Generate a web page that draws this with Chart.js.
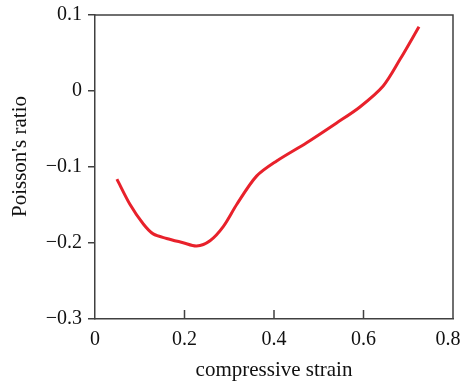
<!DOCTYPE html>
<html>
<head>
<meta charset="utf-8">
<script src="https://cdn.jsdelivr.net/npm/chart.js@4/dist/chart.umd.min.js"></script>
<style>
  body { margin: 0; background: #fff; }
  canvas { display: block; }
</style>
</head>
<body>
<canvas id="poisson-chart" width="462" height="383"></canvas>
<script>
// values
const strain = [0.049, 0.078, 0.108, 0.13, 0.16, 0.197, 0.227, 0.257, 0.287, 0.317, 0.361, 0.406, 0.473, 0.54, 0.592, 0.644, 0.682, 0.724];
const poissonRatio = [-0.116, -0.149, -0.175, -0.188, -0.194, -0.1996, -0.204, -0.197, -0.178, -0.149, -0.112, -0.092, -0.068, -0.042, -0.021, 0.0066, 0.042, 0.0846];
const xTicks = [0, 0.2, 0.4, 0.6, 0.8];
const yTicks = [-0.3, -0.2, -0.1, 0, 0.1];

const axisColor = "#404040";
const serif = "'Liberation Serif', 'DejaVu Serif', serif";

// frame on top/right plus inward ticks on the bottom axis
const framePlugin = {
  id: "frame",
  afterDraw(chart) {
    const { ctx, chartArea } = chart;
    const xScale = chart.scales.x;
    ctx.save();
    ctx.strokeStyle = axisColor;
    ctx.lineWidth = 1.5;
    ctx.beginPath();
    ctx.moveTo(chartArea.left, chartArea.top);
    ctx.lineTo(chartArea.right, chartArea.top);
    ctx.lineTo(chartArea.right, chartArea.bottom);
    xScale.ticks.forEach((t) => {
      if (t.value <= xScale.min || t.value >= xScale.max) return;
      const px = xScale.getPixelForValue(t.value);
      ctx.moveTo(px, chartArea.bottom);
      ctx.lineTo(px, chartArea.bottom - 9);
    });
    ctx.stroke();
    ctx.restore();
  }
};

const ctx = document.getElementById("poisson-chart").getContext("2d");
new Chart(ctx, {
  type: "line",
  data: {
    datasets: [
      {
        data: strain.map((s, i) => ({ x: s, y: poissonRatio[i] })),
        borderColor: "#e8212b",
        borderWidth: 3,
        pointRadius: 0,
        tension: 0.3,
        fill: false,
      },
    ],
  },
  options: {
    responsive: false,
    animation: false,
    layout: { padding: { left: 0, top: 15, right: 9, bottom: 0 } },
    plugins: { legend: { display: false }, tooltip: { enabled: false } },
    scales: {
      x: {
        type: "linear",
        min: 0,
        max: 0.8,
        afterBuildTicks: (axis) => { axis.ticks = xTicks.map((v) => ({ value: v })); },
        afterFit: (axis) => {
          axis.height = 64;
          axis.paddingLeft = 0;
          axis.paddingRight = 0;
        },
        grid: { display: true, drawOnChartArea: false, drawTicks: false },
        border: { color: axisColor, width: 1.5 },
        ticks: {
          color: "#111",
          font: { family: serif, size: 20 },
          padding: 9,
          maxRotation: 0,
          // last label sits against the page edge, nudge it left like the original
          callback: (v) => (v === 0 ? "0" : v === 0.8 ? "0.8  " : v.toFixed(1)),
        },
        title: {
          display: true,
          text: "compressive strain",
          color: "#111",
          font: { family: serif, size: 21 },
          padding: { top: 4, bottom: 0 },
        },
      },
      y: {
        min: -0.3,
        max: 0.1,
        afterBuildTicks: (axis) => { axis.ticks = yTicks.map((v) => ({ value: v })); },
        afterFit: (axis) => {
          axis.width = 95;
          axis.paddingTop = 0;
          axis.paddingBottom = 0;
        },
        grid: { display: true, drawOnChartArea: false, drawTicks: true, tickLength: 7, color: axisColor, lineWidth: 1.5 },
        border: { color: axisColor, width: 1.5 },
        ticks: {
          color: "#111",
          font: { family: serif, size: 20 },
          padding: 6,
          callback: (v) => (Math.abs(v) < 1e-9 ? "0" : v.toFixed(1).replace("-", "\u2212")),
        },
        title: {
          display: true,
          text: "    Poisson's ratio",
          color: "#111",
          font: { family: serif, size: 21 },
          padding: { top: 8, bottom: 0 },
        },
      },
    },
  },
  plugins: [framePlugin],
});
</script>
</body>
</html>
